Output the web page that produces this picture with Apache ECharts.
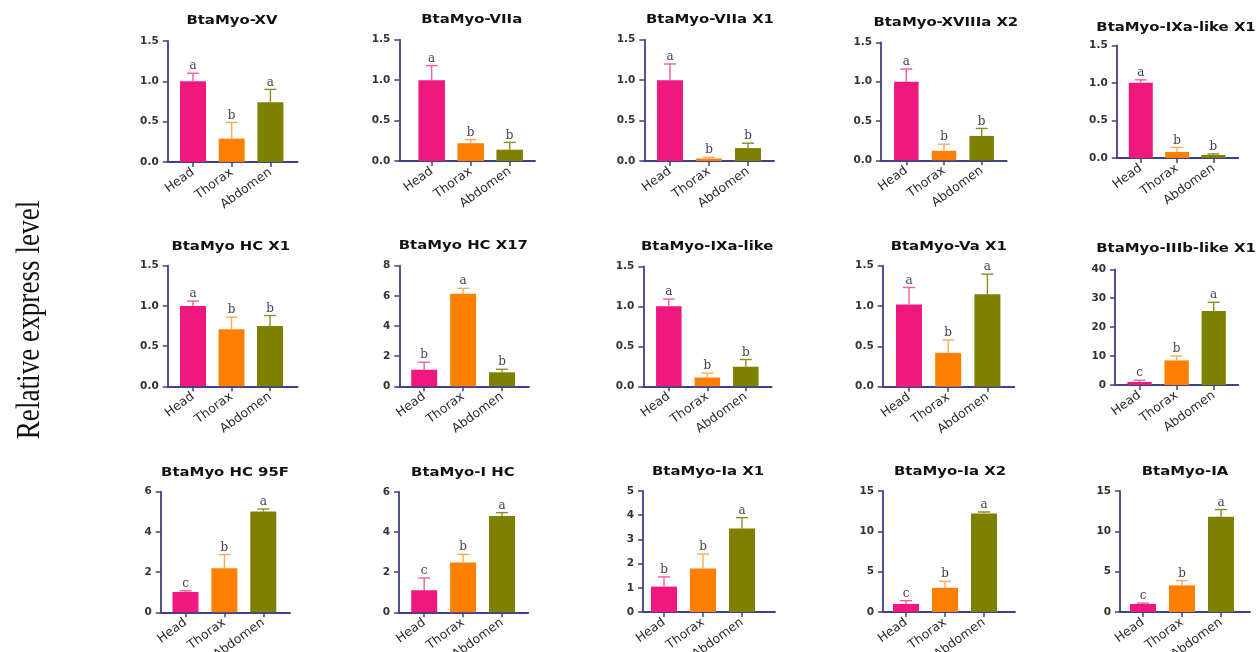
<!DOCTYPE html>
<html>
<head>
<meta charset="utf-8">
<title>Relative expression of BtaMyo genes</title>
<script src="https://cdn.jsdelivr.net/npm/echarts@6/dist/echarts.min.js"></script>
<style>
  html, body { margin: 0; padding: 0; background: #ffffff; }
  #chart { width: 1256px; height: 652px; }
</style>
</head>
<body>
<div id="chart"></div>
<script>
// ---- data ----
const tissues = ['Head', 'Thorax', 'Abdomen'];
const genes = [
  'BtaMyo-XV', 'BtaMyo-VIIa', 'BtaMyo-VIIa X1', 'BtaMyo-XVIIIa X2', 'BtaMyo-IXa-like X1',
  'BtaMyo HC X1', 'BtaMyo HC X17', 'BtaMyo-IXa-like', 'BtaMyo-Va X1', 'BtaMyo-IIIb-like X1',
  'BtaMyo HC 95F', 'BtaMyo-I HC', 'BtaMyo-Ia X1', 'BtaMyo-Ia X2', 'BtaMyo-IA'
];
const means = [
  [1.00, 0.29, 0.74],
  [1.00, 0.22, 0.14],
  [1.00, 0.03, 0.16],
  [1.00, 0.12, 0.31],
  [1.00, 0.08, 0.04],
  [1.00, 0.71, 0.75],
  [1.10, 6.14, 0.93],
  [1.00, 0.11, 0.245],
  [1.02, 0.42, 1.145],
  [1.04, 8.5, 25.6],
  [1.01, 2.19, 5.02],
  [1.10, 2.49, 4.80],
  [1.05, 1.80, 3.45],
  [1.00, 3.00, 12.20],
  [1.00, 3.30, 11.80]
];
const errors = [
  [0.10, 0.20, 0.16],
  [0.18, 0.045, 0.09],
  [0.20, 0.015, 0.06],
  [0.16, 0.085, 0.095],
  [0.04, 0.06, 0.015],
  [0.06, 0.15, 0.13],
  [0.50, 0.36, 0.20],
  [0.09, 0.055, 0.09],
  [0.21, 0.16, 0.25],
  [0.6, 1.5, 3.0],
  [0.06, 0.68, 0.12],
  [0.61, 0.40, 0.17],
  [0.40, 0.60, 0.45],
  [0.40, 0.80, 0.20],
  [0.10, 0.60, 0.90]
];
const letters = [
  ['a', 'b', 'a'], ['a', 'b', 'b'], ['a', 'b', 'b'], ['a', 'b', 'b'], ['a', 'b', 'b'],
  ['a', 'b', 'b'], ['b', 'a', 'b'], ['a', 'b', 'b'], ['a', 'b', 'a'], ['c', 'b', 'a'],
  ['c', 'b', 'a'], ['c', 'b', 'a'], ['b', 'b', 'a'], ['c', 'b', 'a'], ['c', 'b', 'a']
];
const yMax  = [1.5, 1.5, 1.5, 1.5, 1.5, 1.5, 8, 1.5, 1.5, 40, 6, 6, 5, 15, 15];
const yStep = [0.5, 0.5, 0.5, 0.5, 0.5, 0.5, 2, 0.5, 0.5, 10, 2, 2, 1, 5, 5];
const yAxisTitle = 'Relative express level';

// ---- panel layout (pixels) ----
// ax: y-axis line x, c0: first bar centre, sp: bar spacing, xe: x-axis end,
// yt: top of value axis, yb: zero line, bw: bar width, tx/ty: title centre
const panels = [
  { ax: 167.7, c0: 193.0, sp: 38.7, xe: 297.7, yt: 41.0, yb: 162.0, bw: 26, tx: 232, ty: 21 },
  { ax: 399.3, c0: 431.7, sp: 39.0, xe: 535.0, yt: 39.7, yb: 161.0, bw: 26.5, tx: 471.7, ty: 20 },
  { ax: 644.3, c0: 670.0, sp: 39.0, xe: 774.0, yt: 39.7, yb: 161.0, bw: 26, tx: 710, ty: 20 },
  { ax: 881.0, c0: 906.3, sp: 37.7, xe: 1006.7, yt: 42.3, yb: 160.3, bw: 24.5, tx: 945.8, ty: 23 },
  { ax: 1116.7, c0: 1140.8, sp: 36.3, xe: 1238.3, yt: 45.3, yb: 158.0, bw: 24, tx: 1176, ty: 28.3 },
  { ax: 167.7, c0: 193.0, sp: 38.5, xe: 297.7, yt: 265.7, yb: 386.3, bw: 26, tx: 230.8, ty: 246.7 },
  { ax: 399.3, c0: 424.2, sp: 38.9, xe: 529.0, yt: 265.7, yb: 386.3, bw: 26, tx: 463.3, ty: 246 },
  { ax: 643.3, c0: 668.8, sp: 38.5, xe: 771.7, yt: 266.3, yb: 386.3, bw: 25.5, tx: 707.2, ty: 247 },
  { ax: 882.7, c0: 909.0, sp: 39.2, xe: 1014.3, yt: 265.7, yb: 386.7, bw: 26, tx: 948.7, ty: 246.7 },
  { ax: 1115.0, c0: 1139.5, sp: 37.1, xe: 1238.3, yt: 269.3, yb: 385.0, bw: 24.3, tx: 1176, ty: 249.3 },
  { ax: 160.7, c0: 185.5, sp: 38.9, xe: 290.0, yt: 491.7, yb: 612.3, bw: 26, tx: 225, ty: 472.7 },
  { ax: 399.0, c0: 424.2, sp: 38.9, xe: 528.3, yt: 492.0, yb: 612.3, bw: 26, tx: 462.8, ty: 472.7 },
  { ax: 643.0, c0: 664.0, sp: 39.0, xe: 775.0, yt: 491.0, yb: 612.0, bw: 26, tx: 708, ty: 472 },
  { ax: 883.0, c0: 906.0, sp: 39.0, xe: 1015.0, yt: 491.0, yb: 612.0, bw: 26, tx: 950, ty: 472 },
  { ax: 1120.0, c0: 1143.0, sp: 39.0, xe: 1250.0, yt: 491.0, yb: 612.0, bw: 26, tx: 1185, ty: 472 }
];

// ---- styles ----
const barColors = ['#f0177f', '#ff8000', '#7f7f00'];
const errColors = ['#ee5f9f', '#f8ac58', '#8c8c24'];
const axisColor = '#3e4185';
const letterColor = '#3f3f5f';

const grids = [], xAxes = [], yAxes = [], series = [], graphics = [];

panels.forEach((p, k) => {
  grids.push({
    left: p.ax, top: p.yt,
    width: p.xe - p.ax, height: p.yb - p.yt,
    containLabel: false,
    outerBoundsMode: 'none'
  });
  xAxes.push({
    gridIndex: k, type: 'value',
    min: (p.ax - p.c0) / p.sp, max: (p.xe - p.c0) / p.sp,
    splitLine: { show: false },
    axisLine: { show: true, onZero: false, lineStyle: { color: axisColor, width: 1.8 } },
    axisTick: { show: true, length: 5, customValues: [0, 1, 2], lineStyle: { color: axisColor, width: 1.5 } },
    axisLabel: {
      customValues: [0, 1, 2],
      formatter: v => tissues[Math.round(v)],
      rotate: 36, margin: 9,
      fontFamily: 'DejaVu Sans', fontSize: 12.5, color: '#2a2a2a'
    }
  });
  const step = yStep[k];
  yAxes.push({
    gridIndex: k, type: 'value',
    min: 0, max: yMax[k], interval: step,
    splitLine: { show: false },
    axisLine: { show: true, onZero: false, lineStyle: { color: axisColor, width: 1.8 } },
    axisTick: { show: true, length: 5, lineStyle: { color: axisColor, width: 1.5 } },
    axisLabel: {
      margin: 9,
      formatter: v => step < 1 ? v.toFixed(1) : String(v),
      fontFamily: 'DejaVu Sans', fontWeight: 'bold', fontSize: 10.5, color: '#333333'
    }
  });
  series.push({
    type: 'bar', xAxisIndex: k, yAxisIndex: k,
    barWidth: p.bw,
    data: means[k].map((v, i) => ({ value: [i, v], itemStyle: { color: barColors[i] } })),
    z: 2
  });
  series.push({
    type: 'custom', xAxisIndex: k, yAxisIndex: k, z: 3,
    data: means[k].map((v, i) => [i, v, errors[k][i]]),
    renderItem: (params, api) => {
      const i = api.value(0), m = api.value(1), e = api.value(2);
      const base = api.coord([i, m]);
      const top = api.coord([i, m + e]);
      const c = errColors[i];
      return {
        type: 'group',
        children: [
          { type: 'line', shape: { x1: base[0], y1: base[1], x2: top[0], y2: top[1] },
            style: { stroke: c, lineWidth: 1.4 } },
          { type: 'line', shape: { x1: top[0] - 6, y1: top[1], x2: top[0] + 6, y2: top[1] },
            style: { stroke: c, lineWidth: 1.4 } },
          { type: 'text', x: top[0], y: top[1] - 1,
            style: { text: letters[k][i], fill: letterColor, align: 'center', verticalAlign: 'bottom',
                     font: '12px "DejaVu Serif"' } }
        ]
      };
    }
  });
  graphics.push({
    type: 'text', x: p.tx, y: p.ty, scaleX: 1.24,
    style: { text: genes[k], fill: '#111111', align: 'center', verticalAlign: 'middle',
             font: 'bold 12px "DejaVu Sans"' }
  });
});

graphics.push({
  type: 'text', x: 30, y: 320, rotation: Math.PI / 2, scaleX: 0.8,
  style: { text: yAxisTitle, fill: '#111111', align: 'center', verticalAlign: 'middle',
           font: '34px "Liberation Serif"' }
});

const chart = echarts.init(document.getElementById('chart'), null, { renderer: 'canvas' });
chart.setOption({
  backgroundColor: '#ffffff',
  animation: false,
  grid: grids,
  xAxis: xAxes,
  yAxis: yAxes,
  series: series,
  graphic: graphics
});
</script>
</body>
</html>
